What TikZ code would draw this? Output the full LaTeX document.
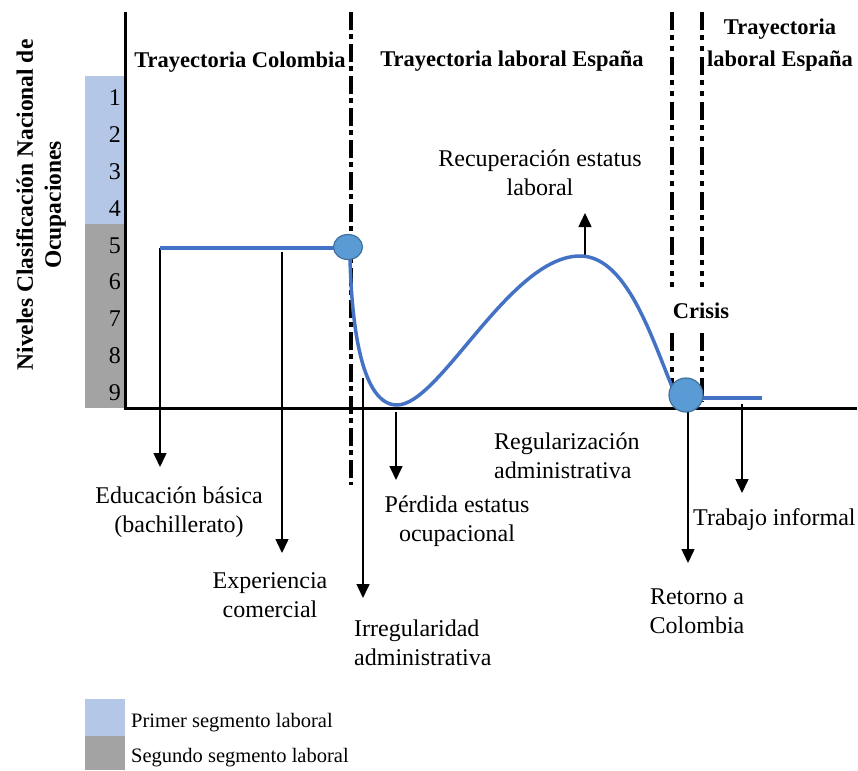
\documentclass[tikz,border=0pt]{standalone}
\usepackage{fontspec}
\setmainfont{Liberation Serif}
\usetikzlibrary{arrows.meta,shapes.geometric}
\definecolor{segA}{HTML}{B4C7E7}
\definecolor{segB}{HTML}{A3A3A3}
\definecolor{trajline}{HTML}{4472C4}
\definecolor{dotfill}{HTML}{5B9BD5}
\definecolor{dotdraw}{HTML}{41719C}
\begin{document}
\begin{tikzpicture}[x=1pt,y=-1pt,
  lbl/.style={font=\fontsize{24}{29}\selectfont, inner sep=0pt, align=center},
  leg/.style={font=\fontsize{20.5}{24}\selectfont, inner sep=0pt},
  num/.style={font=\fontsize{24}{29}\selectfont, inner sep=0pt},
  ttl/.style={font=\fontsize{22.5}{32}\selectfont\bfseries, inner sep=0pt, align=center},
  evarrow/.style={line width=1.5pt, -{Triangle[width=13pt,length=14pt]}},
  traj/.style={draw=trajline, line width=3.5pt},
  ddot/.style={line width=4pt, dash pattern=on 18pt off 4pt on 5pt off 5pt},
  dddot/.style={line width=4pt, dash pattern=on 18pt off 5pt on 5pt off 6pt on 5pt off 6pt},
  marker/.style={draw=dotdraw, fill=dotfill, line width=1.2pt, inner sep=0pt}
]
\useasboundingbox (0,0) rectangle (858,770);
% level bar
\fill[segA] (85,76) rectangle (124,224);
\fill[segB] (85,224) rectangle (124,408);
\foreach \n in {1,...,9}
  \node[num, anchor=base east] (n\n) at (121,{69.25+36.75*\n}) {\n};
% y label
\node[ttl, font=\fontsize{23.5}{28}\selectfont\bfseries, rotate=90] (ylab) at (41,205)
  {Niveles Clasificación Nacional de\\Ocupaciones};
% axes
\coordinate (o) at (125,408);
\coordinate (ytop) at (125,12);
\coordinate (xend) at (857,408);
\draw[line width=3pt] (ytop) -- (o) -- (xend);
% separators
\coordinate (s1a) at (351,12); \coordinate (s1b) at (351,485);
\draw[ddot] (s1a) -- (s1b);
\coordinate (c1a) at (672,12); \coordinate (c1b) at (672,287);
\coordinate (c1c) at (672,333); \coordinate (c1d) at (672,395);
\coordinate (c2a) at (702,12); \coordinate (c2b) at (702,287);
\coordinate (c2c) at (702,333); \coordinate (c2d) at (702,402);
\draw[dddot] (c1a) -- (c1b) (c1c) -- (c1d);
\draw[dddot] (c2a) -- (c2b) (c2c) -- (c2d);
% titles
\node[ttl, anchor=base] (tcol) at (240,68) {Trayectoria Colombia};
\node[ttl, anchor=base] (tesp) at (512,67) {Trayectoria laboral España};
\node[ttl, anchor=base] (tesp2) at (780,67) {Trayectoria\\laboral España};
\node[ttl, anchor=base] (crisis) at (701,318) {Crisis};
% event arrows
\coordinate (e1s) at (160,248); \coordinate (e1e) at (160,467);
\coordinate (e2s) at (282,252); \coordinate (e2e) at (282,553);
\coordinate (e3s) at (363,378); \coordinate (e3e) at (363,598);
\coordinate (e4s) at (396,412); \coordinate (e4e) at (396,480);
\coordinate (e5s) at (585,256); \coordinate (e5e) at (585,213);
\coordinate (e6s) at (688,405); \coordinate (e6e) at (688,563);
\coordinate (e7s) at (742,404); \coordinate (e7e) at (742,493);
\foreach \i in {1,...,7} \draw[evarrow] (e\i s) -- (e\i e);
% trajectory
\coordinate (t0) at (160,248);
\coordinate (t1) at (336,248);
\coordinate (t2) at (350,258);
\coordinate (tmin) at (397,405);
\coordinate (tpk) at (580,256);
\coordinate (t3) at (677,398);
\coordinate (t4) at (700,398);
\coordinate (t5) at (762,398);
\draw[traj] (t0) -- (t1);
\draw[traj] (t2) .. controls (352,340) and (365,405) .. (tmin)
  .. controls (440,405) and (510,256) .. (tpk)
  .. controls (630,256) and (655,350) .. (t3);
\draw[traj] (t4) -- (t5);
\node[marker, ellipse, minimum width=29pt, minimum height=25pt] (m1) at (348,247) {};
\node[marker, circle, minimum size=34pt] (m2) at (686,395) {};
% labels
\node[lbl, anchor=base] (rec) at (540,195) {Recuperación estatus\\laboral};
\node[lbl, anchor=base] (edu) at (179,532) {Educación básica\\(bachillerato)};
\node[lbl, anchor=base] (exp) at (270,617) {Experiencia\\comercial};
\node[lbl, align=left, anchor=base west] (irr) at (354,665) {Irregularidad\\administrativa};
\node[lbl, anchor=base] (per) at (457,541) {Pérdida estatus\\ocupacional};
\node[lbl, align=left, anchor=base west] (reg) at (494,478) {Regularización\\administrativa};
\node[lbl, anchor=base west] (trab) at (693,525) {Trabajo informal};
\node[lbl, anchor=base] (ret) at (697,633) {Retorno a\\Colombia};
% legend
\fill[segA] (85,699) rectangle (125,736);
\fill[segB] (85,736) rectangle (125,770);
\node[leg, anchor=base west] (l1) at (131,727) {Primer segmento laboral};
\node[leg, anchor=base west] (l2) at (131,762) {Segundo segmento laboral};
\end{tikzpicture}
\end{document}
